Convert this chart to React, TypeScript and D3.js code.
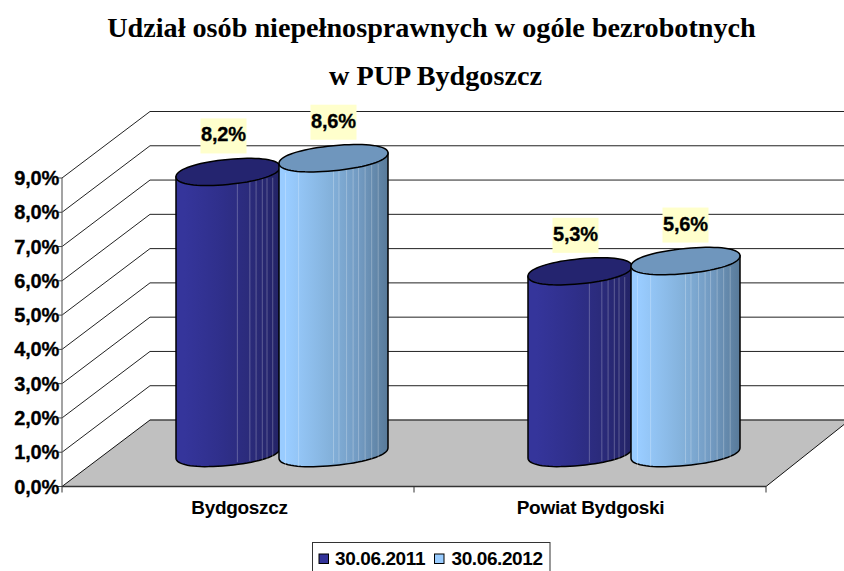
import React from "react";
import * as d3 from "d3";

const title = ["Udział osób niepełnosprawnych w ogóle bezrobotnych", "w PUP Bydgoszcz"];
const categories = ["Bydgoszcz", "Powiat Bydgoski"];
const seriesNames = ["30.06.2011", "30.06.2012"];
const values2011 = [8.2, 5.3];
const values2012 = [8.6, 5.6];
const ticks = [0, 1, 2, 3, 4, 5, 6, 7, 8, 9];

const W = 844, H = 571;
const x0 = 62, x1 = 766, y0 = 486.5, y9 = 178;
const dx = 88, dy = -66.5;
const y = d3.scaleLinear().domain([0, 9]).range([y0, y9]);
const xCat = d3.scaleBand<string>().domain(categories).range([x0, x1]);
const fmt = (v: number) => v.toFixed(1).replace(".", ",") + "%";

const SLOPE = 0.095;
const RY = 12.5;
const P = 0.93;

const styles = [
  { id: "g0", c: ["#35359b", "#2f2f8a", "#2a2a78", "#232366"], top: "#24246f", swatch: "#333399", labelDx: -4.5, stripes: [0.59, 0.71, 0.77, 0.83, 0.875, 0.93] },
  { id: "g1", c: ["#99ccff", "#85b3dd", "#7199c0", "#587a99"], top: "#6f96bd", swatch: "#99ccff", labelDx: 0, stripes: [0.06, 0.18, 0.5, 0.55, 0.62, 0.68, 0.73, 0.79, 0.85, 0.91] },
];

const spow = (v: number, p: number) => Math.sign(v) * Math.pow(Math.abs(v), p);
const line = d3.line<[number, number]>().x((d) => d[0]).y((d) => d[1]);

function cap(cx: number, cy: number, rx: number, t: number): [number, number] {
  const u = spow(Math.cos(t), P) * rx;
  return [cx + u, cy + spow(Math.sin(t), P) * RY - SLOPE * u];
}

function cylinder(cx: number, cy: number, rx: number, drop: number) {
  const ts = d3.range(0, 73).map((i) => (i / 72) * 2 * Math.PI);
  const top = line(ts.map((t) => cap(cx, cy, rx, t))) + "Z";
  const lower = d3.range(0, 37).map((i) => (i / 36) * Math.PI).map((t) => cap(cx, cy + drop, rx, t));
  const body = line([cap(cx, cy, rx, 0), ...lower, cap(cx, cy, rx, Math.PI)]) + "Z";
  return { top, body };
}

export default function App() {
  const series = [values2011, values2012];
  return (
    <svg width={W} height={H} style={{ position: "absolute", left: 0, top: 0, background: "#fff" }}>
      <defs>
        {styles.map((s) => (
          <linearGradient key={s.id} id={s.id} x1="0" x2="1" y1="0" y2="0">
            <stop offset="0" stopColor={s.c[0]} />
            <stop offset="0.08" stopColor={s.c[0]} />
            <stop offset="0.45" stopColor={s.c[1]} />
            <stop offset="0.75" stopColor={s.c[2]} />
            <stop offset="1" stopColor={s.c[3]} />
          </linearGradient>
        ))}
      </defs>
      {title.map((t, i) => (
        <text key={i} x={i === 0 ? 431.5 : 435.5} y={37 + i * 47.5} textAnchor="middle" fontFamily="'Liberation Serif'" fontWeight="bold" fontSize={28.2}>{t}</text>
      ))}
      <polygon points={`${x0},${y0} ${x0 + dx},${y0 + dy} 844,${y0 + dy} 844,${y0 - 62} ${x1},${y0}`} fill="#c0c0c0" />
      <line x1={x0 + dx} x2={844} y1={y0 + dy} y2={y0 + dy} stroke="#444" strokeWidth={1.5} />
      <line x1={x0} x2={x0 + dx} y1={y0} y2={y0 + dy} stroke="#111" />
      <line x1={x1} x2={844} y1={y0} y2={y0 - 62} stroke="#111" />
      {ticks.slice(1).map((t) => (
        <path key={t} d={`M${x0},${y(t)}L${x0 + dx},${y(t) + dy}L844,${y(t) + dy}`} fill="none" stroke="#222" strokeWidth={1} />
      ))}
      <line x1={x0} x2={x0} y1={y9} y2={y0} stroke="#666" strokeWidth={1.2} />
      <line x1={x0} x2={x1} y1={y0} y2={y0} stroke="#333" strokeWidth={1.5} />
      {ticks.map((t) => (
        <g key={t}>
          <line x1={x0 - 5} x2={x0} y1={y(t)} y2={y(t)} stroke="#444" />
          <text x={59} y={y(t) + 7} textAnchor="end" fontFamily="'Liberation Sans'" fontWeight="bold" fontSize={20} letterSpacing={-0.2} stroke="#000" strokeWidth={0.3}>{fmt(t)}</text>
        </g>
      ))}
      {[x0, xCat(categories[1])!, x1].map((v) => (
        <line key={v} x1={v} x2={v} y1={y0} y2={y0 + 6} stroke="#333" />
      ))}
      {categories.map((c, i) => (
        <text key={c} x={i === 0 ? 239.5 : 590.5} y={514} textAnchor="middle" fontFamily="'Liberation Sans'" fontWeight="bold" fontSize={19} letterSpacing={-0.3}>{c}</text>
      ))}
      {categories.map((c, ci) =>
        series.map((vals, si) => {
          const s = styles[si];
          const band = xCat(c)!;
          const left = band + (si === 0 ? 114 : 217);
          const w = si === 0 ? 104 : 109;
          const cx = left + w / 2;
          const cy = y(vals[ci]) - 33.5;
          const drop = y(0) - y(vals[ci]);
          const { top, body } = cylinder(cx, cy, w / 2, drop);
          return (
            <g key={c + si}>
              <path d={body} fill={`url(#${s.id})`} stroke="#000" strokeWidth={1.5} />
              {s.stripes.map((f) => {
                const u = (f - 0.5) * w;
                return <line key={f} x1={cx + u} x2={cx + u} y1={cy + 10 - SLOPE * u} y2={cy + drop + 10 - SLOPE * u} stroke="#fff" strokeOpacity={0.25} strokeWidth={1} />;
              })}
              <path d={top} fill={s.top} stroke="#000" strokeWidth={1.5} />
              <rect x={cx + s.labelDx - 23} y={cy - 53.5} width={46} height={35} fill="#ffffcc" />
              <text x={cx + s.labelDx} y={cy - 30.5} textAnchor="middle" fontFamily="'Liberation Sans'" fontWeight="bold" fontSize={20} letterSpacing={-0.2} stroke="#000" strokeWidth={0.3}>{fmt(vals[ci])}</text>
            </g>
          );
        })
      )}
      <rect x={312.5} y={542.5} width={237.5} height={30} fill="#fff" stroke="#333" />
      {seriesNames.map((n, i) => (
        <g key={n}>
          <rect x={319 + i * 115.5} y={554} width={9.5} height={9.5} fill={styles[i].swatch} stroke="#000" />
          <text x={335 + i * 116.5} y={565} fontFamily="'Liberation Sans'" fontWeight="bold" fontSize={19} letterSpacing={-0.4}>{n}</text>
        </g>
      ))}
    </svg>
  );
}
